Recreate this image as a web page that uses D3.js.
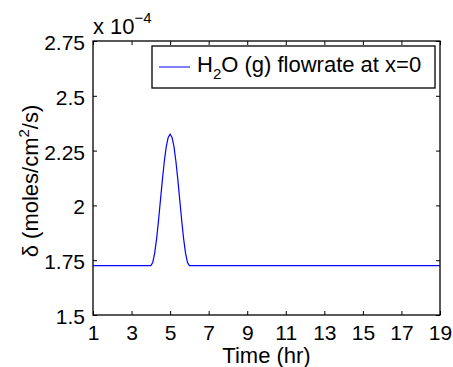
<!DOCTYPE html>
<html lang="en">
<head>
    <meta charset="UTF-8">
    <title>H2O flowrate</title>
    <script src="https://d3js.org/d3.v7.min.js"></script>
    <style>
body { margin: 0; background: #fff; }
svg { display: block; }
text { font-family: "Liberation Sans", Arial, sans-serif; fill: #000; }
.tick text { font-size: 21px; }
    </style>
</head>
<body>
    <svg width="453" height="367"></svg>
    <script>
        // data (values in units of 1e-4)
        const timeHr = [1, 4.0, 4.1, 4.2, 4.3, 4.4, 4.5, 4.6, 4.7, 4.8, 4.9, 5.0,
                        5.1, 5.2, 5.3, 5.4, 5.5, 5.6, 5.7, 5.8, 5.9, 6.0, 19];
        const flowrate = [1.725, 1.725, 1.7397, 1.7823, 1.8487, 1.9323, 2.025, 2.1177, 2.2013, 2.2677, 2.3103, 2.325,
                          2.3103, 2.2677, 2.2013, 2.1177, 2.025, 1.9323, 1.8487, 1.7823, 1.7397, 1.725, 1.725];
        const xTicks = [1, 3, 5, 7, 9, 11, 13, 15, 17, 19];
        const yTicks = [1.5, 1.75, 2, 2.25, 2.5, 2.75];

        const data = timeHr.map((t, i) => ({t: t, v: flowrate[i]}));

        const margin = {top: 41, right: 13, bottom: 52, left: 93};
        const width = 453 - margin.left - margin.right;
        const height = 367 - margin.top - margin.bottom;

        const svg = d3.select("svg");
        const g = svg.append("g")
            .attr("transform", `translate(${margin.left},${margin.top})`);

        const x = d3.scaleLinear().domain([1, 19]).range([0, width]);
        const y = d3.scaleLinear().domain([1.5, 2.75]).range([height, 0]);

        const fmt = d => String(d);

        // axes, ticks pointing inward (MATLAB style)
        g.append("g")
            .attr("transform", `translate(0,${height})`)
            .call(d3.axisBottom(x).tickValues(xTicks).tickFormat(fmt).tickSizeInner(-4).tickSizeOuter(0).tickPadding(10));
        g.append("g")
            .call(d3.axisTop(x).tickValues(xTicks).tickFormat("").tickSizeInner(-4).tickSizeOuter(0));
        g.append("g")
            .call(d3.axisLeft(y).tickValues(yTicks).tickFormat(fmt).tickSizeInner(-4).tickSizeOuter(0).tickPadding(8))
            .selectAll(".tick text").attr("dy", "0.4em");
        g.append("g")
            .attr("transform", `translate(${width},0)`)
            .call(d3.axisRight(y).tickValues(yTicks).tickFormat("").tickSizeInner(-4).tickSizeOuter(0));

        g.selectAll(".domain").remove();
        g.selectAll(".tick line").attr("stroke", "#000");

        // box
        g.append("rect")
            .attr("width", width)
            .attr("height", height)
            .attr("fill", "none")
            .attr("stroke", "#000")
            .attr("stroke-width", 1.3);

        // line
        const line = d3.line().x(d => x(d.t)).y(d => y(d.v));
        g.append("path")
            .datum(data)
            .attr("d", line)
            .attr("fill", "none")
            .attr("stroke", "#0000ff")
            .attr("stroke-width", 1.2);

        // exponent label
        const expo = svg.append("text")
            .attr("x", 93)
            .attr("y", 34)
            .style("font-size", "22px");
        expo.append("tspan").text("x 10");
        expo.append("tspan").attr("dy", -11).style("font-size", "15px").text("\u22124");

        // legend
        const leg = g.append("g").attr("transform", "translate(59,5)");
        leg.append("rect")
            .attr("width", 283)
            .attr("height", 42)
            .attr("fill", "#fff")
            .attr("stroke", "#000")
            .attr("stroke-width", 1.3);
        leg.append("line")
            .attr("x1", 7).attr("x2", 38)
            .attr("y1", 21).attr("y2", 21)
            .attr("stroke", "#0000ff");
        const lt = leg.append("text")
            .attr("x", 45)
            .attr("y", 26)
            .style("font-size", "22px");
        lt.append("tspan").text("H");
        lt.append("tspan").attr("dy", 7).style("font-size", "15px").text("2");
        lt.append("tspan").attr("dy", -7).text("O (g) flowrate at x=0");

        // axis titles
        svg.append("text")
            .attr("x", margin.left + width / 2)
            .attr("y", 363)
            .attr("text-anchor", "middle")
            .style("font-size", "22px")
            .text("Time (hr)");

        const yl = svg.append("text")
            .attr("transform", "translate(38,181) rotate(-90)")
            .attr("text-anchor", "middle")
            .style("font-size", "22px");
        yl.append("tspan").text("\u03b4 (moles/cm");
        yl.append("tspan").attr("dy", -9).style("font-size", "15px").text("2");
        yl.append("tspan").attr("dy", 9).text("/s)");
    </script>
</body>
</html>
